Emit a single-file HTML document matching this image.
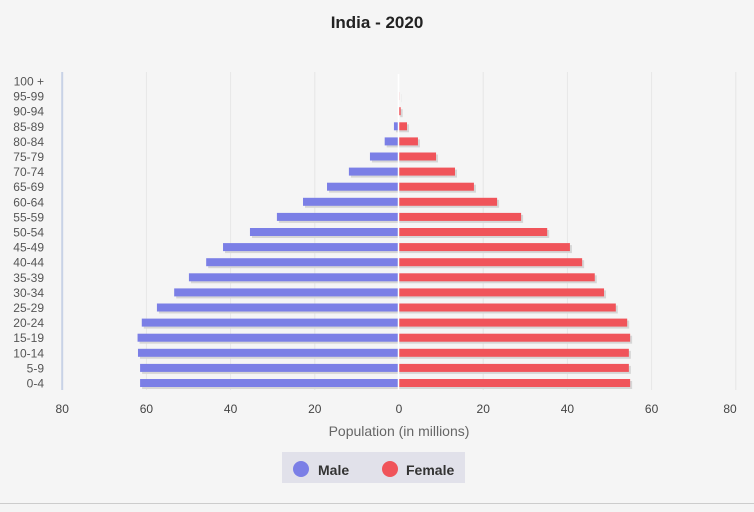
<!DOCTYPE html>
<html><head><meta charset="utf-8"><style>
html,body{margin:0;padding:0;background:#f4f4f4;}
body{width:754px;height:507px;overflow:hidden;font-family:"Liberation Sans",sans-serif;}
</style></head><body>
<svg id="s" width="754" height="507" xmlns="http://www.w3.org/2000/svg">
<rect x="0" y="0" width="754" height="503" fill="#f5f5f5"/>
<line x1="0" y1="503.5" x2="754" y2="503.5" stroke="#cccccc"/>
<text x="377" y="28" text-anchor="middle" font-size="17" font-weight="bold" fill="#222">India - 2020</text>
<g id="grid"></g>
<g id="bars"></g>
<text x="399" y="436" text-anchor="middle" font-size="14" fill="#666">Population (in millions)</text>
<rect x="282" y="452" width="183" height="31" fill="#e1e1ea"/>
<circle cx="301" cy="469" r="8" fill="#7b7fe6"/>
<text x="318" y="475" font-size="14" font-weight="bold" fill="#333">Male</text>
<circle cx="390" cy="469" r="8" fill="#f0545a"/>
<text x="406" y="475" font-size="14" font-weight="bold" fill="#333">Female</text>
</svg>
<script>
const ns="http://www.w3.org/2000/svg";
function el(p,t,a,txt){const e=document.createElementNS(ns,t);for(const k in a)e.setAttribute(k,a[k]);if(txt!==undefined)e.textContent=txt;p.appendChild(e);return e;}
const g=document.getElementById('grid'),b=document.getElementById('bars');
const cx=399,sc=4.21;
const ticks=[-80,-60,-40,-20,0,20,40,60,80];
ticks.forEach(t=>{const x=cx+t*sc;
 if(t!==0) el(g,'line',{x1:x,y1:72,x2:x,y2:390,stroke:t===-80?'#c8d2e6':'#e6e6e6','stroke-width':t===-80?2:1});
 el(g,'text',{x:t===80?730:x,y:413,'text-anchor':'middle','font-size':12,fill:'#444'},Math.abs(t));
});
const labels=['0-4','5-9','10-14','15-19','20-24','25-29','30-34','35-39','40-44','45-49','50-54','55-59','60-64','65-69','70-74','75-79','80-84','85-89','90-94','95-99','100 +'];
const male=[61.5,61.5,62,62.1,61.1,57.5,53.4,49.9,45.8,41.8,35.4,29,22.8,17.1,11.9,6.9,3.4,1.2,0.2,0,0];
const fem=[54.9,54.6,54.6,54.9,54.2,51.5,48.7,46.5,43.5,40.6,35.2,29,23.3,17.8,13.3,8.8,4.5,1.9,0.4,0.05,0];
labels.forEach((l,i)=>{const y=383-i*15.1;
 el(g,'text',{x:44,y:y+4.5,'text-anchor':'end','font-size':12,fill:'#555'},l);
 const mw=male[i]*sc,fw=fem[i]*sc;
 if(mw>0){el(b,'rect',{x:cx-mw+2,y:y-2,width:mw,height:8,fill:'#d6d6d6'});el(b,'rect',{x:cx-mw,y:y-4,width:mw,height:8,fill:'#7b7fe6'});}
 if(fw>0){el(b,'rect',{x:cx+2,y:y-2,width:fw,height:8,fill:'#d6d6d6'});el(b,'rect',{x:cx,y:y-4,width:fw,height:8,fill:'#f0545a'});}
});
el(b,'line',{x1:cx-0.5,y1:74,x2:cx-0.5,y2:390,stroke:'#ffffff','stroke-width':1.5});
</script>
</body></html>
